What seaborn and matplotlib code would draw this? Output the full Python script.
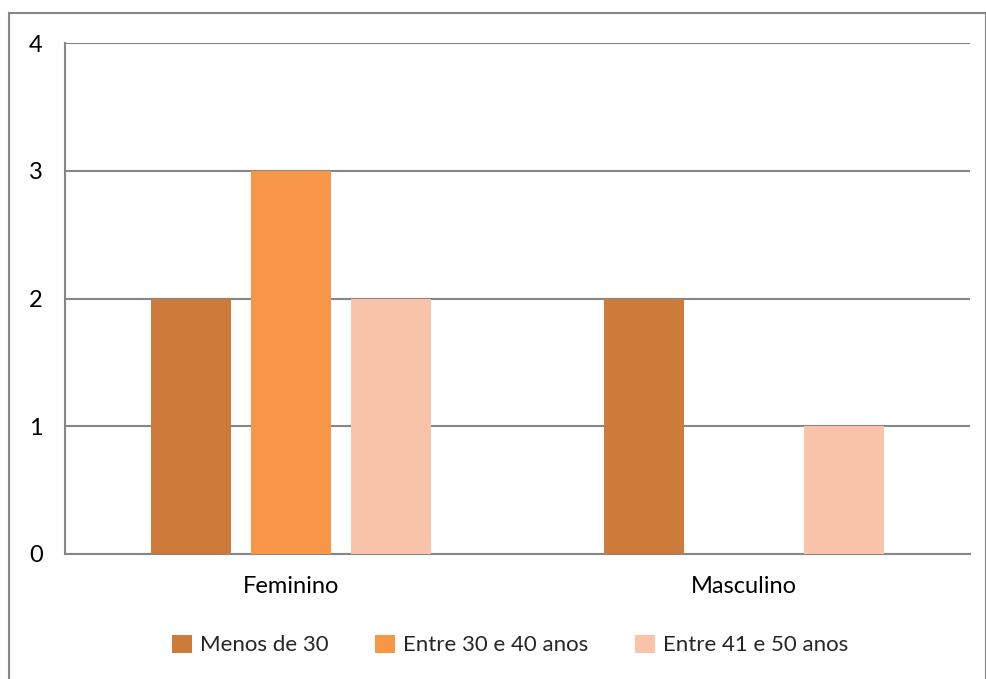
import matplotlib
matplotlib.use("Agg")
import matplotlib.pyplot as plt
from matplotlib.patches import Rectangle
import seaborn as sns
import pandas as pd

genders = ["Feminino", "Masculino"]
age_groups = ["Menos de 30", "Entre 30 e 40 anos", "Entre 41 e 50 anos"]
menos_30 = [2, 2]
entre_30_40 = [3, 0]
entre_41_50 = [2, 1]
y_ticks = [0, 1, 2, 3, 4]
colors = ["#CC7B3A", "#F79646", "#F9C3A9"]

rows = []
for series, vals in zip(age_groups, [menos_30, entre_30_40, entre_41_50]):
    for g, v in zip(genders, vals):
        rows.append({"Genero": g, "Idade": series, "Qtd": v})
df = pd.DataFrame(rows)

sns.set_theme(style="white")
plt.rcParams["font.family"] = ["Lato", "DejaVu Sans"]

fig = plt.figure(figsize=(9.87, 6.79), dpi=100)
ax = fig.add_axes([65 / 987, 1 - 554 / 679, 905 / 987, 511 / 679])

sns.barplot(data=df, x="Genero", y="Qtd", hue="Idade", order=genders,
            hue_order=age_groups, palette=colors, width=0.663, gap=0.2,
            saturation=1, errorbar=None, ax=ax, zorder=3, legend=True,
            linewidth=0, edgecolor="none")

ax.set_xlim(-0.5, 1.5)
ax.set_ylim(0, 4)
ax.set_yticks(y_ticks)
ax.set_yticklabels([str(t) for t in y_ticks])
ax.yaxis.grid(True, color="#868686", linewidth=1.5)
ax.set_axisbelow(True)
ax.set_xlabel("")
ax.set_ylabel("")
ax.tick_params(axis="both", length=0, labelsize=17, colors="black")
ax.tick_params(axis="y", pad=16)
ax.tick_params(axis="x", pad=16)
for side in ["top", "right"]:
    ax.spines[side].set_visible(False)
for side in ["left", "bottom"]:
    ax.spines[side].set_color("#868686")
    ax.spines[side].set_linewidth(1.5)

handles, labels = ax.get_legend_handles_labels()
ax.legend(handles, labels, loc="center", bbox_to_anchor=(510 / 987, 1 - 645 / 679),
          bbox_transform=fig.transFigure, ncol=3, frameon=False, fontsize=16,
          handlelength=0.9, handleheight=0.9, handletextpad=0.35, columnspacing=2.1)

# chart frame
fig.patches.append(Rectangle((9 / 987, -0.01), 977 / 987, 1 - 13 / 679 + 0.01,
                             transform=fig.transFigure, fill=False,
                             edgecolor="#868686", linewidth=1.5))

fig.savefig("out.png", dpi=100)
